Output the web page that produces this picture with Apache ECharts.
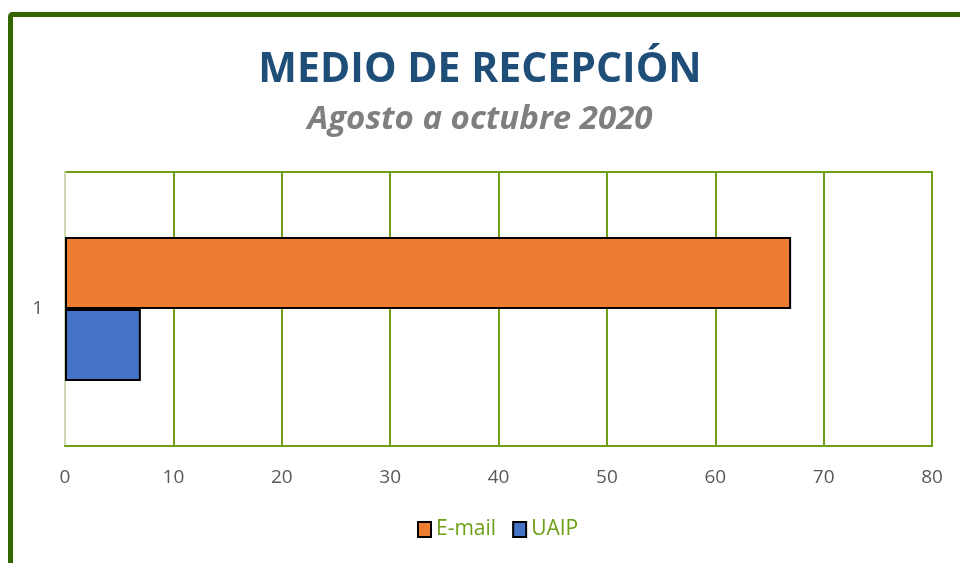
<!DOCTYPE html>
<html>
<head>
<meta charset="utf-8">
<script src="https://cdn.jsdelivr.net/npm/echarts@6/dist/echarts.min.js"></script>
<style>
  html, body { margin: 0; padding: 0; background: #fff; }
  #chart { width: 960px; height: 563px; }
</style>
</head>
<body>
<div id="chart"></div>
<script>
var categories = ['1'];
var emailValues = [67];
var uaipValues = [7];
var xTicks = { min: 0, max: 80, interval: 10 };

var green = '#6E9F17';
var chart = echarts.init(document.getElementById('chart'));
chart.setOption({
  animation: false,
  backgroundColor: '#fff',
  title: {
    text: 'MEDIO DE RECEPCIÓN',
    subtext: 'Agosto a octubre 2020',
    left: 'center',
    top: 45,
    itemGap: 12,
    textStyle: {
      fontFamily: 'Open Sans',
      fontWeight: 'bold',
      fontSize: 41,
      color: '#1F4E79'
    },
    subtextStyle: {
      fontFamily: 'Open Sans',
      fontWeight: 'bold',
      fontStyle: 'italic',
      fontSize: 33,
      color: '#7F7F7F'
    }
  },
  graphic: [{  // marco verde de la imagen
    type: 'rect',
    shape: { x: 10.5, y: 14.5, width: 1000, height: 1000, r: 2 },
    style: { fill: 'none', stroke: '#336600', lineWidth: 5 },
    silent: true
  }],
  legend: {
    data: ['E-mail', 'UAIP'],
    bottom: 18,
    left: 412,
    icon: 'rect',
    itemWidth: 13,
    itemHeight: 15,
    itemGap: 16,
    textStyle: { fontFamily: 'Open Sans', fontSize: 21, color: green }
  },
  grid: {
    left: 65,
    right: 28,
    top: 172,
    bottom: 117,
    show: true,
    borderColor: green,
    borderWidth: 2
  },
  xAxis: {
    type: 'value',
    min: xTicks.min,
    max: xTicks.max,
    interval: xTicks.interval,
    axisLine: { show: true, lineStyle: { color: green, width: 2 } },
    axisTick: { show: false },
    axisLabel: { margin: 22, fontFamily: 'Open Sans', fontSize: 19, color: '#595959' },
    splitLine: { lineStyle: { color: green, width: 2 } }
  },
  yAxis: {
    type: 'category',
    data: categories,
    axisLine: { show: true, lineStyle: { color: '#CDD9B0', width: 2 } },
    axisTick: { show: false },
    axisLabel: { margin: 22, fontFamily: 'Open Sans', fontSize: 19, color: '#595959' },
    splitLine: { show: false }
  },
  series: [
    {
      name: 'E-mail',
      type: 'bar',
      data: emailValues,
      barWidth: 72,
      barGap: '0%',
      itemStyle: { color: '#ED7D31', borderColor: '#000', borderWidth: 2 }
    },
    {
      name: 'UAIP',
      type: 'bar',
      data: uaipValues,
      barWidth: 72,
      barGap: '0%',
      itemStyle: { color: '#4472C4', borderColor: '#000', borderWidth: 2 }
    }
  ]
});
</script>
</body>
</html>
